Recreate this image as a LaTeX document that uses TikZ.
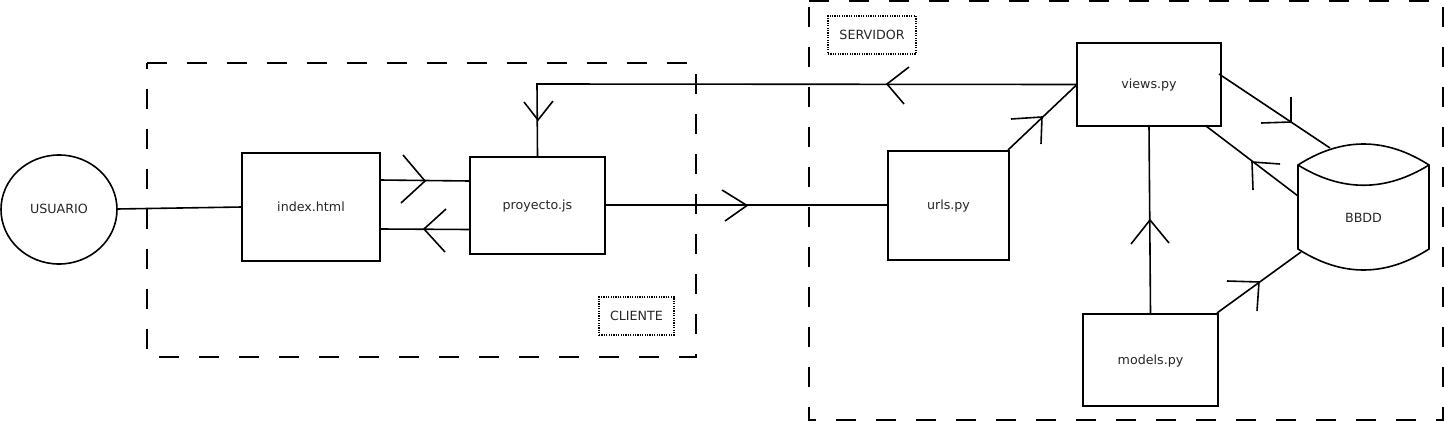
\documentclass[tikz,border=0pt]{standalone}
\usepackage{fontspec}
\setmainfont{DejaVu Sans}
\usetikzlibrary{calc}
\tikzset{
  x=0.75pt,y=-0.75pt,
  every path/.style={line width=1.2pt,color=black},
  box/.style={draw,rectangle,inner sep=0pt,outer sep=0pt,text height=7.5pt,text depth=1.5pt,font=\fontsize{9.5pt}{11pt}\selectfont,text=black!85},
  region/.style={line width=1.2pt,dash pattern=on 15pt off 15pt},
  tag/.style={draw,rectangle,inner sep=0pt,outer sep=0pt,line width=0.8pt,dash pattern=on 0.9pt off 0.9pt,font=\fontsize{9.5pt}{11pt}\selectfont,text=black!85},
  barbs/.style={line width=1.2pt},
}
\newcommand{\boxat}[6]{\node[box,minimum width=#4*0.75pt,minimum height=#5*0.75pt] (#1) at (#2,#3) {#6};}
\begin{document}
\begin{tikzpicture}
\useasboundingbox (0,0) rectangle (1444,421);
% regions
\draw[region] (147,63) -- (696,63) -- (696,357) -- (147,357) -- cycle;
\draw[region] (809,1) -- (1443,1) -- (1443,420) -- (809,420) -- cycle;
% nodes
\node[box,draw=none] (lblU) at (59,209) {USUARIO};
\draw (59,209.5) ellipse [x radius=58,y radius=54.5];
\coordinate (usuarioE) at (117,209);
\boxat{index}{311}{207}{138}{108}{index.html}
\boxat{proyecto}{537.5}{205.5}{135}{97}{proyecto.js}
\boxat{urls}{948.5}{205.5}{121}{109}{urls.py}
\boxat{views}{1149}{84.5}{144}{83}{views.py}
\boxat{models}{1150.5}{360}{135}{92}{models.py}
\node[box,draw=none,minimum width=131*0.75pt,minimum height=126*0.75pt] (bbdd) at (1363.5,207) {};
\node[box,draw=none] at (1363.5,218) {BBDD};
\draw (bbdd.west |- 0,165) .. controls (1341.7,137) and (1385.3,137) .. (bbdd.east |- 0,165)
      -- (bbdd.east |- 0,249) .. controls (1385.3,277) and (1341.7,277) .. (bbdd.west |- 0,249) -- cycle;
\draw (bbdd.west |- 0,165) .. controls (1341.7,192) and (1385.3,192) .. (bbdd.east |- 0,165);
\node[tag,minimum width=88*0.75pt,minimum height=38*0.75pt] (servidor) at (872,35) {SERVIDOR};
\node[tag,minimum width=75*0.75pt,minimum height=38*0.75pt] (cliente) at (636.5,316) {CLIENTE};
% connectors
\coordinate (corner) at (537,84);
\draw (usuarioE) -- (index.west);
\draw ($(index.east)+(0,-27)$) -- ($(proyecto.west)+(0,-24.5)$);
\draw ($(index.east)+(0,22)$) -- ($(proyecto.west)+(0,24)$);
\draw (views.west) -- (corner) -- (proyecto.north);
\draw ($(proyecto.east)+(0,-0.4)$) -- ($(urls.west)+(0,-0.4)$);
\draw ($(urls.north east)+(-1,-1)$) -- (views.west);
\draw ($(views.east)+(-2,-10.5)$) -- ($(bbdd.north)+(-33.5,4)$);
\draw ($(views.south)+(57,0)$) -- ($(bbdd.west)+(0,-11)$);
\draw (models.north) -- (views.south);
\draw ($(models.north east)+(-1,-1)$) -- ($(bbdd.south west)+(3,-18)$);
% crow-foot marks
\draw[barbs] (403,155) -- (425,181) -- (401,203);
\draw[barbs] (446,209) -- (424,229) -- (445,252);
\draw[barbs] (524,102) -- (538,120) -- (553,101);
\draw[barbs] (909,67) -- (887,84) -- (904,104);
\draw[barbs] (722,190) -- (747,205.5) -- (725,221);
\draw[barbs] (1011,119) -- (1042,117) -- (1041,144);
\draw[barbs] (1291,97) -- (1291,122) -- (1261,123);
\draw[barbs] (1280,164) -- (1252,162) -- (1253,190);
\draw[barbs] (1131,244) -- (1150,220) -- (1169,243);
\draw[barbs] (1227,281) -- (1259,282) -- (1257,311);
\end{tikzpicture}
\end{document}
